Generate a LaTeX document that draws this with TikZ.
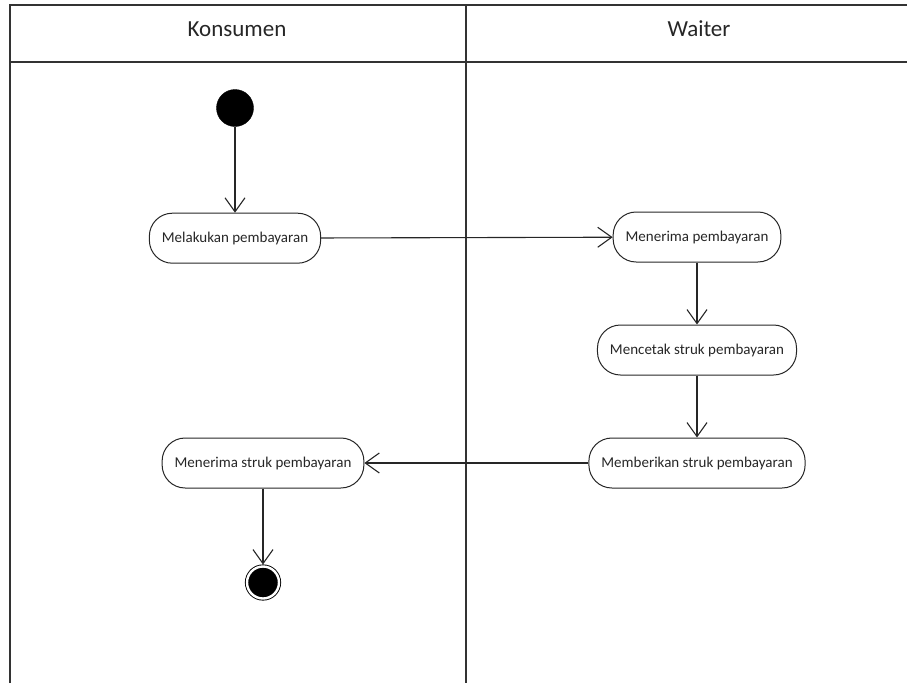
\documentclass[tikz,border=0pt]{standalone}
\usepackage{fontspec}
\setmainfont{Carlito}
\usetikzlibrary{positioning,arrows.meta}

\begin{document}
\begin{tikzpicture}[x=1pt, y=-1pt, auto, node distance=63pt,
    >={Straight Barb[length=14pt,width=20pt]},
    garis/.style={draw=black!85, line width=1.1pt},
    jalur/.style={draw=black!80, line width=1.5pt},
    aktivitas/.style={draw=black!85, line width=1pt, rectangle, rounded corners=23pt,
      minimum height=50pt, inner xsep=12.5pt, font=\fontsize{15}{17}\selectfont, text=black!85},
    awal/.style={draw, circle, fill=black, minimum size=37pt, inner sep=0pt},
    akhir/.style={draw, circle, fill=black, minimum size=32pt, inner sep=0pt,
      double=white, double distance=2.4pt, line width=0.9pt, outer sep=2pt},
    judul/.style={font=\fontsize{23}{26}\selectfont, text=black!85}]

    \useasboundingbox (0,0) rectangle (907,683);

    % Swimlane
    \draw [jalur] (10,683) -- (10,5) -- (907,5);
    \draw [jalur] (10,62) -- (907,62);
    \draw [jalur] (466,5) -- (466,683);
    \node [judul] (konsumen) at (237,29) {Konsumen};
    \node [judul] (waiter) at (699,29) {Waiter};

    % Konsumen
    \node [awal] (mulai) at (235,108) {};
    \node [aktivitas, below=86pt of mulai] (bayar) {Melakukan pembayaran};
    \node [aktivitas] (terimastruk) at (263,463) {Menerima struk pembayaran};
    \node [akhir, below=76pt of terimastruk] (selesai) {};

    % Waiter
    \node [aktivitas] (terimabayar) at (697,237) {Menerima pembayaran};
    \node [aktivitas, below of=terimabayar, node distance=113pt] (cetak) {Mencetak struk pembayaran};
    \node [aktivitas, below of=cetak, node distance=113pt] (beristruk) {Memberikan struk pembayaran};

    % Alur
    \draw [garis, ->] (mulai) -- (bayar);
    \draw [garis, ->] (bayar) -- (terimabayar);
    \draw [garis, ->] (terimabayar) -- (cetak);
    \draw [garis, ->] (cetak) -- (beristruk);
    \draw [garis, ->] (beristruk) -- (terimastruk);
    \draw [garis, ->] (terimastruk) -- (selesai);

\end{tikzpicture}
\end{document}
